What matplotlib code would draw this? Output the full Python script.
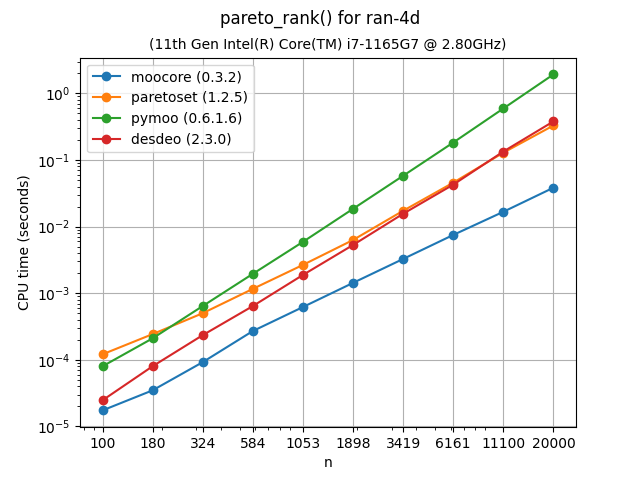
import numpy as np
import matplotlib.pyplot as plt

n = [100, 180, 324, 584, 1053, 1898, 3419, 6161, 11100, 20000]

moocore = [1.74e-5, 3.48e-5, 9.2e-5, 2.7e-4, 6.2e-4, 1.43e-3, 3.27e-3, 7.5e-3, 1.67e-2, 3.84e-2]
paretoset = [1.21e-4, 2.43e-4, 5.0e-4, 1.16e-3, 2.66e-3, 6.3e-3, 1.73e-2, 4.57e-2, 0.129, 0.33]
pymoo = [8.0e-5, 2.1e-4, 6.4e-4, 1.95e-3, 5.9e-3, 1.85e-2, 5.8e-2, 0.183, 0.594, 1.93]
desdeo = [2.47e-5, 8.0e-5, 2.34e-4, 6.4e-4, 1.88e-3, 5.3e-3, 1.56e-2, 4.27e-2, 0.134, 0.38]

series = {
    "moocore (0.3.2)": moocore,
    "paretoset (1.2.5)": paretoset,
    "pymoo (0.6.1.6)": pymoo,
    "desdeo (2.3.0)": desdeo,
}

fig, ax = plt.subplots(figsize=(6.4, 4.8), dpi=100)
for label, vals in series.items():
    ax.plot(n, vals, marker="o", label=label)

ax.set_xscale("log")
ax.set_yscale("log")
ax.set_xticks(n)
ax.set_xticklabels([str(v) for v in n])
ax.set_xlabel("n")
ax.set_ylabel("CPU time (seconds)")
ax.grid(True)
ax.legend(loc="upper left")
fig.suptitle("pareto_rank() for ran-4d")
ax.set_title("(11th Gen Intel(R) Core(TM) i7-1165G7 @ 2.80GHz)", fontsize=10)

fig.savefig("out.png")
